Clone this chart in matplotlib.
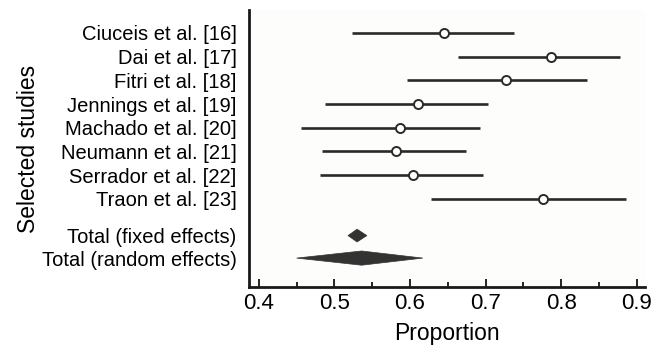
import matplotlib.pyplot as plt
from matplotlib.patches import Polygon
from matplotlib.ticker import MultipleLocator

plt.rcParams["font.family"] = ["Liberation Sans", "DejaVu Sans"]

studies = [
    "Ciuceis et al. [16]",
    "Dai et al. [17]",
    "Fitri et al. [18]",
    "Jennings et al. [19]",
    "Machado et al. [20]",
    "Neumann et al. [21]",
    "Serrador et al. [22]",
    "Traon et al. [23]",
]
estimate = [0.645, 0.786, 0.727, 0.611, 0.587, 0.581, 0.604, 0.776]
ci_low = [0.523, 0.663, 0.596, 0.487, 0.456, 0.483, 0.481, 0.628]
ci_high = [0.738, 0.878, 0.834, 0.703, 0.693, 0.674, 0.697, 0.886]

totals = ["Total (fixed effects)", "Total (random effects)"]
total_est = [0.530, 0.536]
total_low = [0.518, 0.450]
total_high = [0.543, 0.617]

study_rows = list(range(len(studies)))
total_rows = [8.55, 9.5]

fig = plt.figure(figsize=(6.62, 3.47), dpi=100)
ax = fig.add_axes([249 / 662, 1 - 287 / 347, (645 - 249) / 662, (287 - 10) / 347])

line_color = "#2a2a2a"
for y, lo, hi, est in zip(study_rows, ci_low, ci_high, estimate):
    ax.plot([lo, hi], [y, y], color=line_color, lw=1.9, solid_capstyle="butt", zorder=2)
    ax.plot(est, y, "o", ms=6.5, mfc="white", mec=line_color, mew=1.4, zorder=3)

# pooled estimates as diamonds
half_heights = [0.27, 0.3]
for y, lo, hi, est, h in zip(total_rows, total_low, total_high, total_est, half_heights):
    ax.add_patch(Polygon([(lo, y), (est, y - h), (hi, y), (est, y + h)],
                         closed=True, facecolor="#333333", edgecolor="#333333", lw=0.5))

ax.set_xlim(0.387, 0.911)
ax.set_ylim(10.72, -0.97)

ax.set_yticks(study_rows + total_rows)
ax.set_yticklabels(studies + totals, fontsize=14.5)
ax.tick_params(axis="y", length=0, pad=9)

ax.xaxis.set_major_locator(MultipleLocator(0.1))
ax.xaxis.set_minor_locator(MultipleLocator(0.05))
ax.xaxis.set_major_formatter(plt.FuncFormatter(lambda v, _: f"{v:.1f}"))
ax.tick_params(axis="x", which="major", direction="in", length=6, width=1.2, labelsize=16, pad=4)
ax.tick_params(axis="x", which="minor", direction="in", length=3.5, width=1.2)

ax.set_xlabel("Proportion", fontsize=16.5, labelpad=6)
ax.set_ylabel("Selected studies", fontsize=16.5, labelpad=1)

for side in ("top", "right"):
    ax.spines[side].set_visible(False)
for side in ("left", "bottom"):
    ax.spines[side].set_linewidth(2)
    ax.spines[side].set_color("#1a1a1a")

ax.set_facecolor("#fdfdfb")

fig.savefig("out.png", dpi=100)
